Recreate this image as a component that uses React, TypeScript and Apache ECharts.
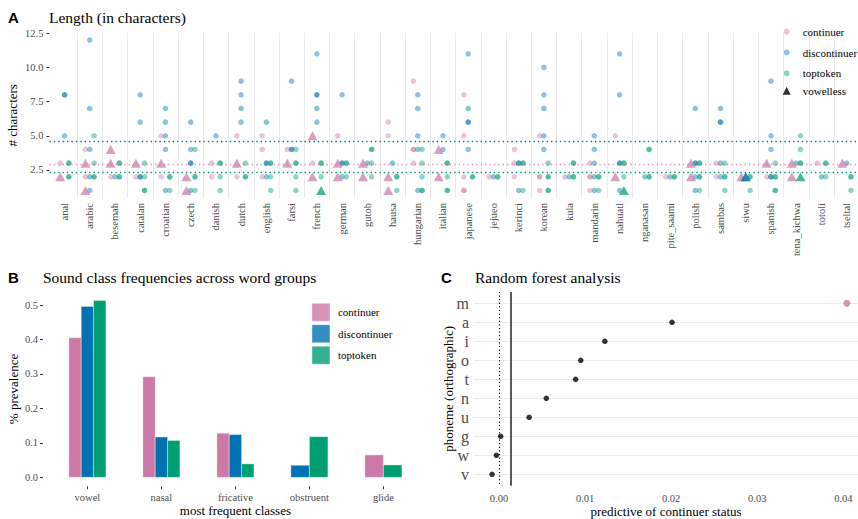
import React, { useEffect, useRef } from 'react';
import * as echarts from 'echarts';

const PINK = '#CC79A7';
const BLUE = '#0072B2';
const GREEN = '#009E73';
const PINK_A = 'rgba(204,121,167,0.55)';
const BLUE_A = 'rgba(0,114,178,0.55)';
const GREEN_A = 'rgba(0,158,115,0.55)';
const SERIF = 'Liberation Serif';
const SANS = 'Liberation Sans';
const GREY = '#4D4D4D';

// ---------- Panel A: word length per language ----------
const languages = [
  'anal', 'arabic', 'besemah', 'catalan', 'croatian', 'czech', 'danish', 'dutch',
  'english', 'farsi', 'french', 'german', 'gutob', 'hausa', 'hungarian', 'italian',
  'japanese', 'jejueo', 'kerinci', 'korean', 'kula', 'mandarin', 'nahuatl', 'nganasan',
  'pite_saami', 'polish', 'sambas', 'siwu', 'spanish', 'tena_kichwa', 'totoli', 'tseltal',
];
const lengthTicks = [2.5, 5, 7.5, 10, 12.5];

const continuerDots: Record<string, number[]> = {
  anal: [3], arabic: [4, 2], besemah: [2], catalan: [2], croatian: [5, 2],
  danish: [3, 2], dutch: [5, 2], english: [5, 4, 2], farsi: [4], french: [3], german: [5],
  hausa: [6, 5], hungarian: [9, 4, 4, 3], japanese: [8, 5, 2, 1, 1], jejueo: [2],
  kerinci: [4, 3, 2], korean: [5, 2, 2, 1], kula: [2], mandarin: [3, 2, 2, 1], nahuatl: [5],
  pite_saami: [2], sambas: [3, 2], spanish: [2], totoli: [3],
};
const continuerVowelless: Record<string, number[]> = {
  anal: [2], arabic: [3, 1], besemah: [4, 3], catalan: [3], croatian: [3], czech: [2, 1],
  dutch: [3], farsi: [3], french: [5, 2], german: [3, 2], gutob: [3, 2], hausa: [2, 1],
  italian: [4, 2], nahuatl: [2], polish: [3, 2], siwu: [2], spanish: [3],
  tena_kichwa: [3, 2], tseltal: [3],
};
const discontinuerDots: Record<string, number[]> = {
  anal: [8, 8, 5], arabic: [12, 7, 4, 2, 1], besemah: [2], catalan: [8, 6, 2, 2],
  croatian: [7, 6, 5, 4, 1], czech: [6, 4, 3, 3, 1], danish: [5], dutch: [9, 8, 7, 6],
  english: [6, 3, 3, 2], farsi: [9, 4, 4], french: [11, 8, 8, 7, 6], german: [8, 3, 3, 2],
  gutob: [3], hausa: [3], hungarian: [8, 7, 5, 4, 1], italian: [5, 4],
  japanese: [11, 7, 6, 6, 4], jejueo: [2], kerinci: [3, 3, 1], korean: [10, 8, 7, 5, 4],
  kula: [2], mandarin: [5, 4, 3, 2, 1], nahuatl: [11, 8, 3, 3, 1], nganasan: [2],
  pite_saami: [2], polish: [7, 3, 3, 2, 1], sambas: [7, 6, 6, 3, 2], spanish: [9, 5, 4, 2, 2],
  tena_kichwa: [3], totoli: [2], tseltal: [3],
};
const discontinuerVowelless: Record<string, number[]> = { siwu: [2, 2] };
const toptokenDots: Record<string, number[]> = {
  anal: [3, 3, 2, 2], arabic: [5, 3, 2, 2], besemah: [3, 3, 2, 2], catalan: [3, 2, 1, 1],
  croatian: [2, 2, 1], czech: [4, 2, 2, 1], danish: [3, 3, 2, 1], dutch: [3, 2, 2],
  english: [3, 3, 2, 1], farsi: [4, 3, 3, 2, 1], french: [3, 3, 2], german: [3, 3, 2],
  gutob: [4, 4, 3, 2], hausa: [2, 2, 1], hungarian: [4, 3, 2, 1, 1], italian: [3, 3, 2, 1, 1],
  japanese: [2, 2], jejueo: [2, 2], kerinci: [3, 3, 1], korean: [3, 2, 2, 1, 1],
  kula: [3, 3, 2, 2], mandarin: [2, 2, 1], nahuatl: [3, 3, 2], nganasan: [4, 4, 2, 2],
  pite_saami: [2, 2], polish: [3, 3, 2, 2, 1], sambas: [3, 2, 2, 1], siwu: [2, 2, 1],
  spanish: [3, 2, 2, 1, 1], tena_kichwa: [5, 4, 3, 3], totoli: [3, 3, 2], tseltal: [2, 2, 1],
};
const toptokenVowelless: Record<string, number[]> = { french: [1], nahuatl: [1], tena_kichwa: [2] };

const meanContinuer = 2.92;
const meanDiscontinuer = 4.57;
const meanToptoken = 2.3;

// ---------- Panel B: sound class frequencies ----------
const soundClasses = ['vowel', 'nasal', 'fricative', 'obstruent', 'glide'];
const continuerShare = [0.405, 0.292, 0.128, null, 0.065];
const discontinuerShare = [0.496, 0.117, 0.124, 0.035, null];
const toptokenShare = [0.513, 0.107, 0.039, 0.118, 0.036];
const prevalenceTicks = [0, 0.1, 0.2, 0.3, 0.4, 0.5];

// ---------- Panel C: random forest ----------
const phonemes = ['m', 'a', 'i', 'o', 't', 'n', 'u', 'g', 'w', 'v'];
const importance = [0.0404, 0.0201, 0.0123, 0.0095, 0.0089, 0.0055, 0.0035, 0.0002, -0.0003, -0.0008];
const importanceTicks = [0, 0.01, 0.02, 0.03, 0.04];
const importanceZero = 0;
const importanceThreshold = 0.0014;

const DODGE = 0.17;

function toPoints(byLang: Record<string, number[]>, offset: number) {
  const pts: number[][] = [];
  languages.forEach((lang, i) => {
    (byLang[lang] || []).forEach((v) => pts.push([i + offset, v]));
  });
  return pts;
}

function buildOption() {
  const langIdx = languages.map((_, i) => i);
  const boundaries = languages.slice(1).map((_, i) => i + 0.5);
  const classIdx = soundClasses.map((_, i) => i);
  const phonIdx = phonemes.map((_, i) => i);

  const barGroups = [
    { name: 'continuer', color: PINK, values: continuerShare },
    { name: 'discontinuer', color: BLUE, values: discontinuerShare },
    { name: 'toptoken', color: GREEN, values: toptokenShare },
  ];

  const dotSeries = (name: string, data: number[][], color: string, extra: any = {}) => ({
    type: 'scatter', name, xAxisIndex: 0, yAxisIndex: 0, data,
    symbol: 'circle', symbolSize: 5.5, itemStyle: { color }, z: 3, silent: true, ...extra,
  });
  const triSeries = (data: number[][], color: string) => ({
    type: 'scatter', name: 'vowelless', xAxisIndex: 0, yAxisIndex: 0, data,
    symbol: 'triangle', symbolSize: [10, 9], itemStyle: { color }, z: 4, silent: true,
  });

  const axisLabelBase = { fontFamily: SERIF, color: GREY, fontSize: 10.5 };
  const nameStyle = { fontFamily: SERIF, color: '#000', fontSize: 13 };
  const legendText = { fontFamily: SERIF, fontSize: 11, color: '#000', lineHeight: 14 };
  const noLine = { show: false, onZero: false };
  const gridBase = { containLabel: false, outerBoundsMode: 'none' };
  const nameBase = { nameLocation: 'middle', nameMoveOverlap: false, nameTextStyle: nameStyle };

  return {
    animation: false,
    backgroundColor: '#fff',
    textStyle: { fontFamily: SERIF },
    title: [
      { text: 'A', left: 8, top: 10, padding: 0, textStyle: { fontFamily: SANS, fontWeight: 'bold', fontSize: 15, color: '#000' } },
      { text: 'Length (in characters)', left: 49, top: 9, padding: 0, textStyle: { fontFamily: SERIF, fontWeight: 'normal', fontSize: 15.5, color: '#000' } },
      { text: 'B', left: 8, top: 270, padding: 0, textStyle: { fontFamily: SANS, fontWeight: 'bold', fontSize: 15, color: '#000' } },
      { text: 'Sound class frequencies across word groups', left: 43, top: 269, padding: 0, textStyle: { fontFamily: SERIF, fontWeight: 'normal', fontSize: 15.5, color: '#000' } },
      { text: 'C', left: 441, top: 270, padding: 0, textStyle: { fontFamily: SANS, fontWeight: 'bold', fontSize: 15, color: '#000' } },
      { text: 'Random forest analysis', left: 475, top: 269, padding: 0, textStyle: { fontFamily: SERIF, fontWeight: 'normal', fontSize: 15.5, color: '#000' } },
    ],
    legend: [
      {
        orient: 'vertical', left: 783.7, top: 24.7, itemWidth: 6, itemHeight: 6, itemGap: 6.8,
        selectedMode: false, padding: 0,
        textStyle: { ...legendText, padding: [0, 0, 0, 8] },
        data: [
          { name: 'continuer', icon: 'circle', itemStyle: { color: PINK_A } },
          { name: 'discontinuer', icon: 'circle', itemStyle: { color: BLUE_A } },
          { name: 'toptoken', icon: 'circle', itemStyle: { color: GREEN_A } },
        ],
      },
      {
        orient: 'vertical', left: 782.7, top: 83.7, itemWidth: 8, itemHeight: 8,
        selectedMode: false, padding: 0,
        textStyle: { ...legendText, padding: [0, 0, 0, 7] },
        data: [{ name: 'vowelless', icon: 'triangle', itemStyle: { color: '#000' } }],
      },
      {
        orient: 'vertical', left: 311.7, top: 303, itemWidth: 18, itemHeight: 18, itemGap: 3,
        selectedMode: false, padding: 0,
        textStyle: { ...legendText, padding: [0, 0, 0, 3] },
        data: barGroups.map((g) => ({ name: g.name, icon: 'rect', itemStyle: { color: g.color, borderColor: '#fff', borderWidth: 0.5 } })),
      },
    ],
    grid: [
      { ...gridBase, left: 49.4, top: 32.6, width: 812.4, height: 165.4 },
      { ...gridBase, left: 43, top: 291.6, width: 384.8, height: 194.7 },
      { ...gridBase, left: 474, top: 291.9, width: 384, height: 193.8 },
    ],
    xAxis: [
      {
        type: 'value', gridIndex: 0, min: -0.6, max: 31.6,
        axisLine: noLine,
        axisTick: { show: false, customValues: boundaries },
        splitLine: { show: true, lineStyle: { color: '#EBEBEB', width: 1 } },
        axisLabel: {
          ...axisLabelBase, customValues: langIdx, rotate: 90, margin: 5,
          formatter: (v: number) => languages[Math.round(v)] ?? '',
        },
      },
      {
        type: 'value', gridIndex: 1, min: -0.6, max: 4.6,
        axisLine: noLine,
        axisTick: { show: true, customValues: classIdx, length: 3, lineStyle: { color: '#333' } },
        splitLine: { show: false },
        axisLabel: {
          ...axisLabelBase, customValues: classIdx, margin: 6,
          formatter: (v: number) => soundClasses[Math.round(v)] ?? '',
        },
        ...nameBase, name: 'most frequent classes', nameGap: 18,
      },
      {
        type: 'value', gridIndex: 2, min: -0.0029, max: 0.0417,
        axisLine: noLine,
        axisTick: { show: false, customValues: importanceTicks },
        splitLine: { show: false },
        axisLabel: {
          ...axisLabelBase, customValues: importanceTicks, margin: 7,
          formatter: (v: number) => v.toFixed(2),
        },
        ...nameBase, name: 'predictive of continuer status', nameGap: 19,
      },
    ],
    yAxis: [
      {
        type: 'value', gridIndex: 0, min: 0.45, max: 12.55,
        axisLine: noLine,
        axisTick: { show: true, customValues: lengthTicks, length: 3, lineStyle: { color: '#333' } },
        splitLine: { show: false },
        axisLabel: { ...axisLabelBase, customValues: lengthTicks, margin: 6, formatter: (v: number) => v.toFixed(1) },
        ...nameBase, name: '# characters', nameGap: 30,
      },
      {
        type: 'value', gridIndex: 1, min: -0.026, max: 0.539,
        axisLine: noLine,
        axisTick: { show: true, customValues: prevalenceTicks, length: 3, lineStyle: { color: '#333' } },
        splitLine: { show: false },
        axisLabel: { ...axisLabelBase, customValues: prevalenceTicks, margin: 5, formatter: (v: number) => v.toFixed(1) },
        ...nameBase, name: '% prevalence', nameGap: 23,
      },
      {
        type: 'value', gridIndex: 2, min: -0.6, max: 9.6, inverse: true,
        axisLine: noLine,
        axisTick: { show: false, customValues: phonIdx },
        splitLine: { show: true, lineStyle: { color: '#EBEBEB', width: 1 } },
        axisLabel: {
          fontFamily: SERIF, color: GREY, fontSize: 16, customValues: phonIdx, margin: 5,
          formatter: (v: number) => phonemes[Math.round(v)] ?? '',
        },
        ...nameBase, name: 'phoneme (orthographic)', nameGap: 19.5,
      },
    ],
    series: [
      dotSeries('continuer', toPoints(continuerDots, -DODGE), PINK_A, {
        markLine: {
          silent: true, symbol: 'none', label: { show: false }, z: 2, precision: 6,
          data: [
            { yAxis: meanDiscontinuer, lineStyle: { color: BLUE, type: [1.4, 3], width: 1.4 } },
            { yAxis: meanContinuer, lineStyle: { color: 'rgba(204,121,167,0.75)', type: [1.4, 3], width: 1.4 } },
            { yAxis: meanToptoken, lineStyle: { color: GREEN, type: [1.4, 3], width: 1.4 } },
          ],
        },
      }),
      dotSeries('discontinuer', toPoints(discontinuerDots, 0), BLUE_A),
      dotSeries('toptoken', toPoints(toptokenDots, DODGE), GREEN_A),
      triSeries(toPoints(continuerVowelless, -DODGE), 'rgba(204,121,167,0.9)'),
      triSeries(toPoints(discontinuerVowelless, 0), 'rgba(0,114,178,0.75)'),
      triSeries(toPoints(toptokenVowelless, DODGE), 'rgba(0,158,115,0.9)'),
      ...barGroups.map((g, gi) => ({
        type: 'custom', name: g.name, xAxisIndex: 1, yAxisIndex: 1, silent: true,
        data: g.values.map((v, ci) => [ci, v]).filter((d) => d[1] != null),
        encode: { x: 0, y: 1 },
        renderItem: (params: any, api: any) => {
          const ci = api.value(0);
          const v = api.value(1);
          const present = barGroups.map((b, k) => (b.values[ci] != null ? k : -1)).filter((k) => k >= 0);
          const n = present.length;
          const slot = present.indexOf(gi);
          const band = api.size([1, 0])[0];
          const total = band * 0.5;
          const w = total / n;
          const base = api.coord([ci, 0]);
          const top = api.coord([ci, v]);
          return {
            type: 'rect',
            shape: { x: base[0] - total / 2 + slot * w, y: top[1], width: w, height: base[1] - top[1] },
            style: { fill: g.color, stroke: 'rgba(255,255,255,0.6)', lineWidth: 0.6 },
          };
        },
      })),
      {
        type: 'scatter', name: 'importance', xAxisIndex: 2, yAxisIndex: 2, silent: true,
        data: importance.map((v, i) => ({
          value: [v, i],
          symbolSize: i === 0 ? 7 : 5.5,
          itemStyle: { color: i === 0 ? PINK : '#000' },
        })),
        symbol: 'circle', z: 4,
        markLine: {
          silent: true, symbol: 'none', label: { show: false }, precision: 6, z: 2,
          data: [
            { xAxis: importanceZero, lineStyle: { color: '#000', type: [1.2, 2.4], width: 1.1 } },
            { xAxis: importanceThreshold, lineStyle: { color: '#333', type: 'solid', width: 1.6 } },
          ],
        },
      },
    ],
  };
}

export default function App() {
  const ref = useRef<HTMLDivElement>(null);
  useEffect(() => {
    if (!ref.current) return;
    const chart = echarts.init(ref.current, null, { renderer: 'svg' });
    chart.setOption(buildOption() as any);
    return () => chart.dispose();
  }, []);
  return (
    <div
      ref={ref}
      style={{ position: 'absolute', left: 0, top: 0, width: 858, height: 519, background: '#fff' }}
    />
  );
}
